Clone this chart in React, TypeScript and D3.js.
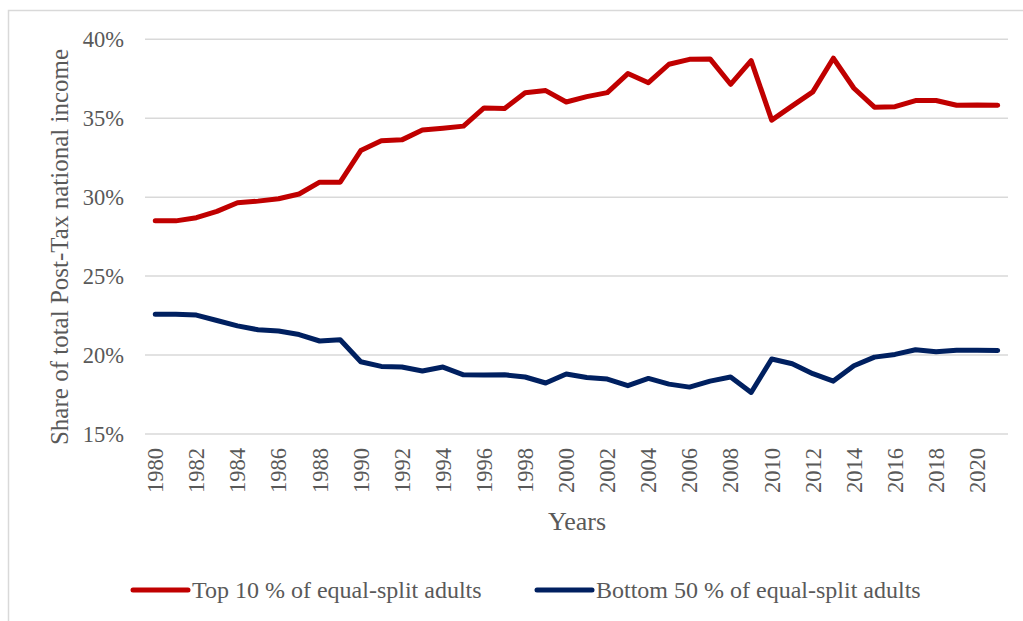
import React from "react";
import * as d3 from "d3";

const years: number[] = d3.range(1980, 2022);

const top10: number[] = [
  28.5, 28.5, 28.7, 29.1, 29.65, 29.75, 29.9, 30.2, 30.95, 30.95,
  32.95, 33.58, 33.63, 34.25, 34.37, 34.5, 35.65, 35.62, 36.62, 36.75,
  36.03, 36.37, 36.62, 37.83, 37.25, 38.42, 38.73, 38.76, 37.15, 38.65,
  34.88, 35.78, 36.67, 38.8, 36.9, 35.7, 35.73, 36.12, 36.12, 35.82,
  35.84, 35.82,
];

const bottom50: number[] = [
  22.59, 22.59, 22.53, 22.19, 21.85, 21.6, 21.52, 21.3, 20.89, 20.97,
  19.58, 19.28, 19.24, 18.99, 19.24, 18.75, 18.73, 18.75, 18.61, 18.23,
  18.8, 18.58, 18.48, 18.06, 18.52, 18.16, 17.97, 18.35, 18.61, 17.63,
  19.75, 19.45, 18.82, 18.35, 19.32, 19.87, 20.04, 20.34, 20.21, 20.31,
  20.31, 20.29,
];

const yTicks: number[] = [15, 20, 25, 30, 35, 40];
const xTickYears: number[] = d3.range(1980, 2022, 2);

const seriesNames: string[] = [
  "Top 10 % of equal-split adults",
  "Bottom 50 % of equal-split adults",
];
const seriesColors: string[] = ["#C00000", "#002060"];

const FONT = "'Liberation Serif', 'Times New Roman', serif";
const TEXT = "#595959";
const GRID = "#D9D9D9";

export default function App() {
  const W = 1023;
  const H = 621;
  const x = d3
    .scaleBand<number>()
    .domain(years)
    .range([145, 1008])
    .padding(0);
  const cx = (yr: number) => (x(yr) as number) + x.bandwidth() / 2;
  const y = d3.scaleLinear().domain([15, 40]).range([434, 39.3]);

  const line = d3
    .line<number>()
    .x((_, i) => cx(years[i]))
    .y((v) => y(v));

  const series = [top10, bottom50];

  return (
    <svg
      width={W}
      height={H}
      style={{ position: "absolute", left: 0, top: 0, background: "#fff" }}
      fontFamily={FONT}
    >
      <rect x={8.5} y={10.5} width={1030} height={630} fill="#fff" stroke={GRID} strokeWidth={1.5} />
      {yTicks.map((t) => (
        <g key={t}>
          <line x1={145} x2={1008} y1={y(t)} y2={y(t)} stroke={GRID} strokeWidth={1.5} />
          <text
            x={124}
            y={y(t)}
            dy="0.35em"
            textAnchor="end"
            fontSize={22.5}
            fill={TEXT}
          >
            {t}%
          </text>
        </g>
      ))}
      {xTickYears.map((yr) => (
        <text
          key={yr}
          transform={`translate(${cx(yr)},448) rotate(-90)`}
          dy="0.35em"
          textAnchor="end"
          fontSize={22.5}
          fill={TEXT}
        >
          {yr}
        </text>
      ))}
      <text
        transform="translate(68,247) rotate(-90)"
        textAnchor="middle"
        fontSize={25}
        fill={TEXT}
      >
        Share of total Post-Tax national income
      </text>
      <text x={577} y={529.5} textAnchor="middle" fontSize={26} fill={TEXT}>
        Years
      </text>
      {series.map((s, i) => (
        <path
          key={i}
          d={line(s) || ""}
          fill="none"
          stroke={seriesColors[i]}
          strokeWidth={5}
          strokeLinejoin="round"
          strokeLinecap="round"
        />
      ))}
      {seriesNames.map((name, i) => {
        const lx = i === 0 ? 133 : 537;
        return (
          <g key={name}>
            <line
              x1={lx}
              x2={lx + 55}
              y1={590}
              y2={590}
              stroke={seriesColors[i]}
              strokeWidth={5}
              strokeLinecap="round"
            />
            <text x={lx + 59} y={598} fontSize={24} fill={TEXT}>
              {name}
            </text>
          </g>
        );
      })}
    </svg>
  );
}
